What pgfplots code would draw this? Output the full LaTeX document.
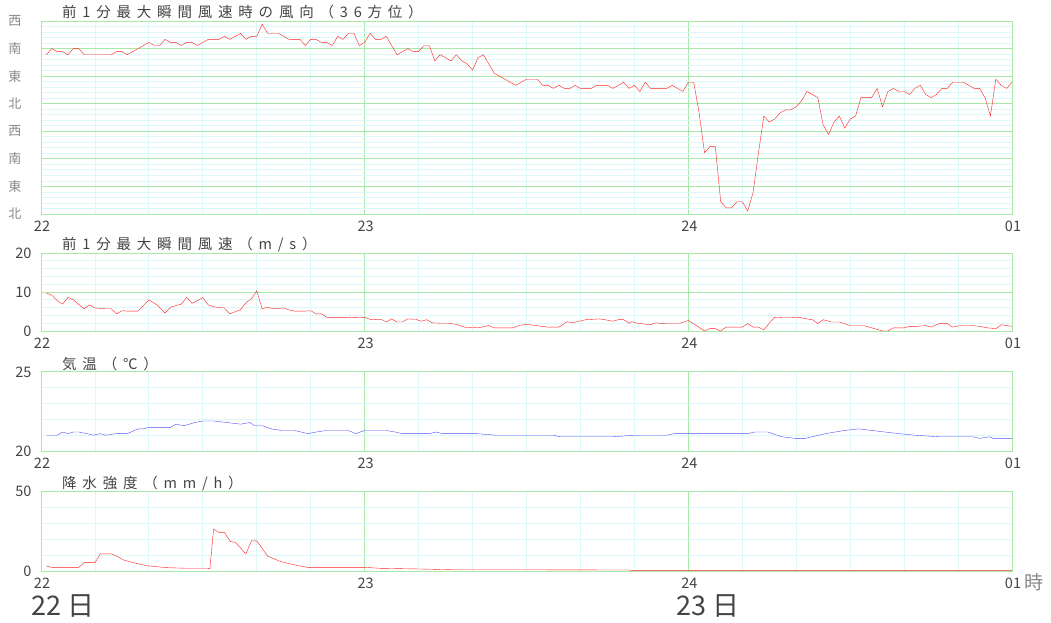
\documentclass[border=0pt]{standalone}
\usepackage{fontspec}
\setmainfont{Noto Sans CJK JP}
\newfontfamily\titlefont{Noto Sans CJK JP}[LetterSpace=40]
\usepackage{pgfplots}
\pgfplotsset{compat=1.18}
\definecolor{gridgreen}{HTML}{A8E8A8}
\definecolor{gridcyan}{HTML}{DDF8F8}
\definecolor{linered}{HTML}{FF2020}
\definecolor{lineblue}{HTML}{5050FF}
\definecolor{labgray}{HTML}{444444}
\definecolor{jpgray}{HTML}{888888}
\pgfplotsset{
  panel/.style={
    scale only axis, width=971pt, xmin=0, xmax=180,
    anchor=south west,
    xtick={0,60,120,180}, xticklabels={22,23,24,01},
    minor x tick num=5,
    grid=both,
    major grid style={draw=gridgreen, line width=1pt},
    minor grid style={draw=gridcyan, line width=0.8pt},
    axis line style={draw=gridgreen, line width=1pt},
    major tick length=0pt, minor tick length=0pt,
    tick style={draw=none},
    /pgf/number format/assume math mode=true,
    ticklabel style={font=\fontsize{14.5}{14.5}\selectfont, text=labgray},
    xticklabel style={anchor=north, yshift=-3pt, xshift=1pt},
    yticklabel style={anchor=east, xshift=-6pt},
    cycle list={{color=linered, line width=1.2pt, mark=none}},
  }
}
\begin{document}
\begin{tikzpicture}[x=1pt,y=1pt]
\path[use as bounding box] (0,0) rectangle (1051,622);
% ---------- Panel 1: wind direction ----------
\begin{axis}[panel, at={(41pt,408pt)}, height=193pt,
  ymin=0, ymax=630, ytick={0,90,...,630},
  yticklabels={北,東,南,西,北,東,南,西},
  yticklabel style={text=jpgray, font=\fontsize{13}{13}\selectfont, xshift=-10pt},
  minor y tick num=4]
\addplot coordinates {
(1,520)(2,540)(3,530)(4,530)(5,520)(6,540)(7,540)(8,520)(13,520)(14,530)
(15,530)(16,520)(17,530)(18,540)(19,550)(20,560)(21,550)(22,550)(23,570)(24,560)
(25,560)(26,550)(27,560)(28,560)(29,550)(30,560)(31,570)(32,570)(33,570)(34,580)
(35,570)(36,580)(37,590)(38,570)(39,580)(40,580)(41,620)(42,590)(43,590)(44,590)
(45,580)(46,570)(47,570)(48,570)(49,550)(50,570)(51,570)(52,560)(53,560)(54,550)
(55,580)(56,570)(57,590)(58,590)(59,550)(60,560)(61,590)(62,570)(63,570)(64,580)
(65,550)(66,520)(67,530)(68,540)(69,530)(70,530)(71,550)(72,550)(73,500)(74,520)
(75,510)(76,500)(77,520)(78,500)(79,490)(80,470)(81,510)(82,520)(83,490)(84,460)
(85,450)(86,440)(88,420)(89,430)(90,440)(91,440)(92,440)(93,420)(94,420)(95,410)
(96,420)(97,410)(98,410)(99,420)(100,410)(101,410)(102,410)(103,420)(104,420)(105,420)
(106,410)(107,420)(108,430)(109,410)(110,420)(111,400)(112,430)(113,410)(114,410)(115,410)
(116,410)(117,420)(118,410)(119,400)(120,430)(121,430)(122,330)(123,200)(124,220)(125,220)
(126,40)(127,20)(128,20)(129,40)(130,40)(131,10)(132,70)(133,200)(134,320)(135,300)
(136,310)(137,330)(138,340)(139,340)(140,350)(141,370)(142,400)(143,390)(144,380)(145,290)
(146,260)(147,300)(148,320)(149,280)(150,310)(151,320)(152,380)(153,380)(154,380)(155,410)
(156,350)(157,400)(158,410)(159,400)(160,400)(161,390)(162,410)(163,420)(164,390)(165,380)
(166,390)(167,410)(168,410)(169,430)(170,430)(171,430)(172,420)(173,410)(174,410)(175,380)
(176,320)(177,440)(178,420)(179,410)(180,430)
};
\end{axis}
% ---------- Panel 2: wind speed ----------
\begin{axis}[panel, at={(41pt,291pt)}, height=78pt,
  ymin=0, ymax=20, ytick={0,10,20}, minor y tick num=4]
\addplot coordinates {
(1,9.7)(2,9.2)(3,7.8)(4,6.9)(5,8.6)(6,8.0)(7,6.8)(8,5.7)(9,6.7)(10,5.9)
(12,5.7)(13,5.7)(14,4.4)(15,5.2)(16,5.1)(18,5.1)(20,8.0)(21.5,6.7)(23,4.6)(24,6.1)
(26,6.9)(27,8.6)(28,7.1)(29,7.8)(30,8.6)(31,6.7)(32,6.2)(34,5.9)(35,4.4)(37,5.5)
(38,7.3)(39,8.2)(40,10.3)(41,5.7)(42,6.1)(43,5.7)(45,5.9)(46,5.4)(47,5.1)(49,5.1)
(50,5.2)(51,4.4)(52,4.4)(53,3.5)(54,3.5)(56.5,3.5)(57.5,3.4)(60,3.5)(61,3.0)(62,2.9)
(63,3.0)(64,2.3)(65,3.1)(66,2.3)(67,2.3)(68,3.1)(69.5,3.0)(70.5,2.5)(71.5,2.9)(72.5,2.1)
(74,2.0)(75.5,2.0)(77,1.7)(79,0.8)(80,1.0)(81,0.8)(83,1.4)(84,0.8)(86,0.8)(87.5,0.8)
(88.5,1.4)(90,1.7)(94,1.0)(96,1.0)(97,1.9)(97.5,2.4)(98.5,2.1)(99.5,2.4)(101,2.9)(103.5,3.1)
(104.5,2.9)(106,2.5)(107,2.9)(108,2.9)(109,2.0)(109.5,2.4)(110.5,2.0)(113,1.6)(114,2.1)(115,1.9)
(116,2.0)(117.5,2.0)(118.5,2.0)(120,2.7)(121.5,1.4)(123,0.0)(124,0.6)(125,0.6)(126,0.0)(127,1.0)
(129,1.0)(130,1.0)(131,1.9)(132,1.0)(133,1.0)(134,0.3)(135,2.0)(136,3.5)(137.5,3.4)(139,3.4)
(140.5,3.5)(142,3.1)(143,2.9)(144,1.9)(145,2.9)(146.5,2.3)(148,2.3)(150,1.4)(152.5,1.4)(154,0.8)
(156,0.0)(157,0.0)(158,0.8)(160,0.8)(161,1.2)(162.5,1.2)(164,1.4)(165,1.0)(166.5,1.9)(168,1.9)
(169,1.0)(170.5,1.4)(172.5,1.4)(174,1.2)(175.5,0.8)(177,0.6)(178,1.6)(179,1.4)(180,1.2)
};
\end{axis}
% ---------- Panel 3: temperature ----------
\begin{axis}[panel, at={(41pt,171pt)}, height=79pt,
  ymin=20, ymax=25, ytick={20,25}, minor y tick num=4,
  cycle list={{color=lineblue, line width=1.2pt, mark=none}}]
\addplot coordinates {
(1,21.0)(3,21.0)(4,21.2)(5,21.1)(6,21.2)(7,21.2)(8.5,21.1)(9.7,21.0)(11,21.1)(12,21.0)
(14,21.1)(16,21.1)(18,21.4)(19,21.4)(20,21.5)(22,21.5)(24,21.5)(25,21.7)(26.5,21.6)(28.5,21.8)
(30,21.9)(32,21.9)(34.5,21.8)(37,21.7)(38.7,21.8)(39.6,21.6)(41,21.6)(42.7,21.4)(44.6,21.3)(47,21.3)
(49.5,21.1)(51,21.2)(53,21.3)(55,21.3)(57,21.3)(58.3,21.1)(60,21.3)(62,21.3)(64,21.3)(65.7,21.2)
(67,21.1)(72,21.1)(73.2,21.2)(74.4,21.1)(80.7,21.1)(84.4,21.0)(95,21.0)(96.2,20.9)(106,20.9)(110,21.0)
(111,21.0)(114.3,21.0)(115.5,21.0)(116,21.0)(117.4,21.1)(119.3,21.1)(131,21.1)(132.3,21.2)(134.8,21.2)(137.3,20.9)
(139.8,20.8)(141.7,20.8)(145.4,21.1)(149,21.3)(151.6,21.4)(154,21.3)(159,21.1)(162,21.0)(166.6,20.9)(171.5,20.9)
(172.8,20.9)(174,20.8)(175.9,20.9)(176.5,20.8)(180,20.8)
};
\end{axis}
% ---------- Panel 4: precipitation ----------
\begin{axis}[panel, at={(41pt,51pt)}, height=80pt,
  ymin=0, ymax=50, ytick={0,50}, minor y tick num=4]
\addplot coordinates {
(1,3.1)(2,2.3)(7,2.3)(8,5.2)(10,5.2)(11,10.7)(13,10.7)(14,9.4)(15.3,6.9)(17.2,5.2)
(19.6,3.3)(23.3,2.1)(27,1.7)(31,1.7)(31.3,1.3)(32,26.2)(33,24.1)(34,24.1)(35.1,18.4)(36,18.0)
(38,10.7)(39,18.8)(40,18.8)(42,9.4)(44.4,5.9)(47,3.8)(49.4,2.3)(54,2.3)(60,2.3)(62.7,1.7)
(69.5,1.3)(76.3,0.8)(89,0.8)(109,0.6)(109.6,0.2)(180,0.2)
};
\end{axis}
% ---------- titles ----------
\node[anchor=west, inner sep=0pt, text=labgray] at (62,610)
  {\titlefont\fontsize{14.5}{14.5}\selectfont 前1分最大瞬間風速時の風向（36方位）};
\node[anchor=west, inner sep=0pt, text=labgray] at (62,377)
  {\titlefont\fontsize{14.5}{14.5}\selectfont 前1分最大瞬間風速（m/s）};
\node[anchor=west, inner sep=0pt, text=labgray] at (62,258)
  {\titlefont\fontsize{14.5}{14.5}\selectfont 気温（℃）};
\node[anchor=west, inner sep=0pt, text=labgray] at (62,138)
  {\titlefont\fontsize{14.5}{14.5}\selectfont 降水強度（mm/h）};
% ---------- unit and day labels ----------
\node[anchor=west, inner sep=0pt, text=jpgray] at (1024,40)
  {\fontsize{19}{19}\selectfont 時};
\node[anchor=west, inner sep=0pt, text=labgray] at (31,16)
  {\fontsize{27}{27}\selectfont 22 日};
\node[anchor=west, inner sep=0pt, text=labgray] at (676,16)
  {\fontsize{27}{27}\selectfont 23 日};
\end{tikzpicture}
\end{document}
